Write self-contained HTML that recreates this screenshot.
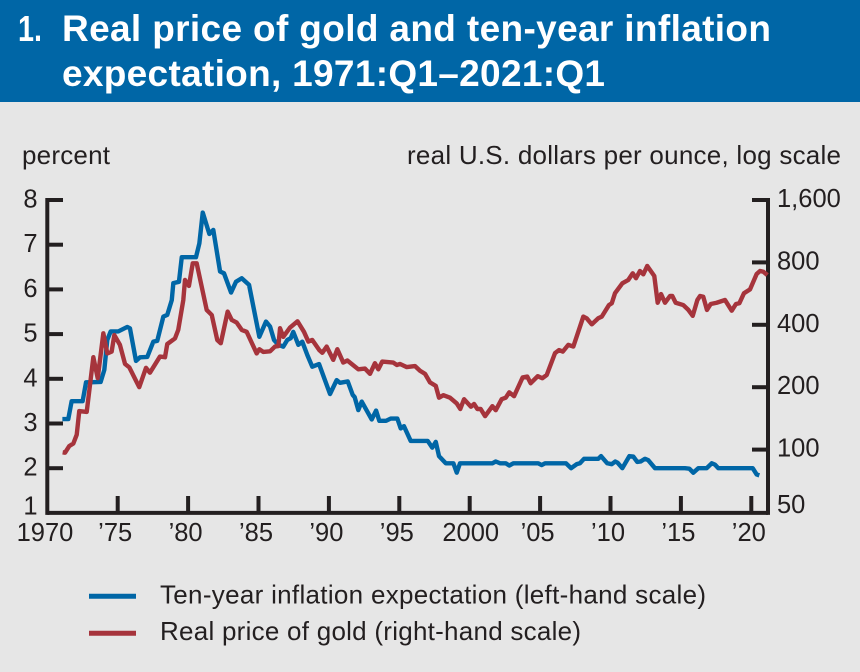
<!DOCTYPE html>
<html lang="en">
<head>
<meta charset="utf-8">
<title>Real price of gold and ten-year inflation expectation</title>
<style>
html,body{margin:0;padding:0;background:#e6e6e6;}
svg{display:block;font-family:"Liberation Sans",Arial,sans-serif;}
text{fill:#231f20;}
</style>
</head>
<body>
<svg id="chart" xmlns="http://www.w3.org/2000/svg" width="860" height="672" viewBox="0 0 860 672">
  <rect x="0" y="0" width="860" height="672" fill="#e6e6e6"/>
  <rect x="0" y="0" width="860" height="102" fill="#0066a6"/>
  <text x="18" y="41" font-size="36.5" font-weight="700" textLength="24" lengthAdjust="spacingAndGlyphs" style="fill:#fff">1.</text>
  <text x="62" y="41" font-size="37" font-weight="700" textLength="709" lengthAdjust="spacing" style="fill:#fff">Real price of gold and ten-year inflation</text>
  <text x="62" y="86" font-size="37" font-weight="700" textLength="543" lengthAdjust="spacing" style="fill:#fff">expectation, 1971:Q1–2021:Q1</text>
  <text x="22" y="164" font-size="26" textLength="88" lengthAdjust="spacing">percent</text>
  <text x="407" y="164" font-size="26" textLength="434" lengthAdjust="spacing">real U.S. dollars per ounce, log scale</text>
  <g id="axes"></g>
  <g id="series"></g>
  <line x1="89" y1="596.3" x2="136" y2="596.3" stroke="#0066a6" stroke-width="5"/>
  <text x="160" y="603.3" font-size="26" textLength="546" lengthAdjust="spacing">Ten-year inflation expectation (left-hand scale)</text>
  <line x1="89" y1="633.3" x2="136" y2="633.3" stroke="#a6343c" stroke-width="5"/>
  <text x="160" y="640" font-size="26" textLength="421" lengthAdjust="spacing">Real price of gold (right-hand scale)</text>
</svg>
<script>
var leftTicks = [8, 7, 6, 5, 4, 3, 2, 1];
var rightTicks = [1600, 800, 400, 200, 100, 50];
var rightTickLabels = ['1,600', '800', '400', '200', '100', '50'];
var xTicks = [1970, 1975, 1980, 1985, 1990, 1995, 2000, 2005, 2010, 2015, 2020];
var xTickLabels = ['1970', '’75', '’80', '’85', '’90', '’95', '2000', '’05', '’10', '’15', '’20'];

var inflationDates = [1971.07,1971.49,1971.73,1972.51,1972.75,1973.79,1974.05,1974.26,1974.50,1975.04,1975.68,1975.87,1976.30,1976.58,1977.10,1977.53,1977.81,1978.24,1978.52,1978.84,1978.95,1979.35,1979.55,1980.56,1980.80,1981.04,1981.51,1981.79,1982.27,1982.55,1983.05,1983.40,1983.81,1984.33,1985.06,1985.53,1985.82,1986.10,1986.41,1986.76,1987.05,1987.29,1987.47,1987.83,1988.11,1988.47,1988.82,1989.30,1990.08,1990.55,1990.79,1991.34,1991.69,1991.83,1992.09,1992.33,1993.04,1993.35,1993.58,1994.06,1994.39,1994.86,1995.10,1995.33,1995.81,1997.02,1997.34,1997.59,1997.82,1998.30,1998.84,1999.08,1999.31,2001.61,2001.85,2002.15,2002.56,2002.81,2003.10,2004.87,2005.11,2005.35,2006.84,2007.20,2007.60,2007.83,2008.12,2009.13,2009.33,2009.77,2010.09,2010.34,2010.51,2010.84,2011.34,2011.62,2011.90,2012.14,2012.45,2012.68,2013.16,2015.29,2015.60,2015.88,2016.24,2016.83,2017.19,2017.42,2017.66,2020.10,2020.38,2020.57];
var inflationValues = [3.10,3.10,3.50,3.50,3.92,3.93,4.20,4.87,5.06,5.06,5.16,5.13,4.40,4.48,4.49,4.83,4.85,5.39,5.43,5.76,6.14,6.17,6.72,6.72,7.03,7.72,7.24,7.33,6.40,6.36,5.93,6.17,6.25,6.10,4.94,5.28,5.17,4.87,4.76,4.72,4.87,4.91,5.05,4.76,4.83,4.53,4.27,4.33,3.66,3.97,3.91,3.94,3.64,3.59,3.30,3.49,3.09,3.29,3.06,3.06,3.11,3.11,2.89,2.94,2.61,2.61,2.46,2.59,2.27,2.11,2.11,1.90,2.11,2.11,2.15,2.11,2.11,2.06,2.11,2.11,2.07,2.11,2.11,2.00,2.09,2.11,2.21,2.21,2.27,2.11,2.09,2.15,2.12,2.00,2.27,2.26,2.14,2.15,2.21,2.18,2.00,2.00,1.99,1.90,2.00,2.00,2.11,2.08,2.00,2.00,1.86,1.84];

var goldDates = [1971.09,1971.26,1971.56,1971.85,1972.09,1972.27,1972.80,1973.27,1973.58,1973.98,1974.26,1974.57,1974.76,1975.16,1975.52,1975.82,1976.53,1977.01,1977.29,1978.00,1978.36,1978.52,1979.07,1979.30,1979.66,1979.78,1980.06,1980.33,1980.61,1981.32,1981.68,1982.07,1982.32,1982.81,1983.10,1983.45,1983.81,1984.16,1984.87,1985.06,1985.34,1985.82,1986.17,1986.41,1986.53,1986.76,1987.24,1987.77,1988.23,1988.54,1988.82,1989.32,1989.53,1989.84,1990.31,1990.60,1991.02,1991.31,1992.09,1992.56,1992.92,1993.27,1993.51,1993.79,1994.57,1994.82,1995.05,1995.53,1996.11,1996.47,1996.83,1997.18,1997.59,1997.82,1998.13,1998.60,1999.08,1999.33,1999.60,2000.09,2000.31,2000.54,2000.78,2001.09,2001.61,2001.85,2002.27,2002.56,2002.81,2003.15,2003.76,2004.09,2004.33,2004.83,2005.16,2005.47,2006.06,2006.34,2006.61,2007.00,2007.36,2008.07,2008.31,2008.67,2009.13,2009.38,2009.89,2010.09,2010.32,2010.84,2011.26,2011.58,2011.81,2012.09,2012.33,2012.61,2013.11,2013.35,2013.59,2013.87,2014.23,2014.39,2014.63,2015.17,2015.53,2015.84,2016.17,2016.36,2016.59,2016.85,2017.12,2017.54,2018.13,2018.61,2018.91,2019.15,2019.48,2019.91,2020.38,2020.62,2020.86,2021.14];
var goldValues = [97,96.6,104,107,118,153.5,152,279,221,364,291,297,357,320,259,249.5,200,248,235,281,279,323,344,378,527,658,616,792,792,472,446,338,326,463,422,410,378,370,291,305,296,298,314,316,385,350,388,416,370,332,338,302,293,314,271,305,263,269,244,246,232,261,244,266,263,256,259,250,253,240,232,211,203,178,183,178,167,157,175,161,166,157,157,145,162,155,175,178,189,181,223,225,209,226,221,229,292,302,297,320,314,438,430,402,430,438,498,508,568,634,658,709,671,727,701,769,688,511,563,511,551,551,511,498,472,442,527,551,546,472,504,511,527,468,504,508,568,593,703,727,721,695];

function xScale(year) { return 47.3 + (year - 1970) * 14.08; }
function leftScale(pct) { return 200 + (8 - pct) * 44.7; }
function rightScale(usd) { return 200 + Math.log2(1600 / usd) * 62.4; }

var NS = 'http://www.w3.org/2000/svg';
var axes = document.getElementById('axes');
var seriesGroup = document.getElementById('series');
var INK = '#231f20';

function line(parent, x1, y1, x2, y2, w) {
  var el = document.createElementNS(NS, 'line');
  el.setAttribute('x1', x1);
  el.setAttribute('y1', y1);
  el.setAttribute('x2', x2);
  el.setAttribute('y2', y2);
  el.setAttribute('stroke', INK);
  el.setAttribute('stroke-width', w);
  parent.appendChild(el);
  return el;
}
function label(parent, x, y, str, anchor) {
  var el = document.createElementNS(NS, 'text');
  el.setAttribute('x', x);
  el.setAttribute('y', y);
  el.setAttribute('font-size', '25.5');
  el.setAttribute('text-anchor', anchor);
  el.textContent = str;
  parent.appendChild(el);
  return el;
}
function polyline(parent, dates, values, scale, color) {
  var pts = dates.map(function (d, i) { return xScale(d).toFixed(2) + ',' + scale(values[i]).toFixed(2); }).join(' ');
  var el = document.createElementNS(NS, 'polyline');
  el.setAttribute('points', pts);
  el.setAttribute('fill', 'none');
  el.setAttribute('stroke', color);
  el.setAttribute('stroke-width', '4.4');
  el.setAttribute('stroke-linejoin', 'round');
  parent.appendChild(el);
  return el;
}

var xAxisY = leftScale(1);
var leftAxisX = xScale(1970);
var rightAxisX = 768;

var leftAxisLine = line(axes, leftAxisX, leftScale(8) - 2, leftAxisX, xAxisY + 2, 4);


var rightAxisLine = line(axes, rightAxisX, rightScale(1600) - 2, rightAxisX, xAxisY + 2, 4);


var bottomAxisLine = line(axes, leftAxisX, xAxisY, rightAxisX, xAxisY, 4);



leftTicks.forEach(function (v) {
  var y = leftScale(v);
  if (v !== 1) {
    var t = line(axes, leftAxisX, y, 63, y, 4);
    
    
  }
  var l = label(axes, 37.5, v === 1 ? y + 1.5 : y + 7.5, String(v), 'end');
  
  
});

rightTicks.forEach(function (v, i) {
  var y = rightScale(v);
  if (v !== 50) {
    var t = line(axes, 752, y, rightAxisX, y, 4);
    
    
  }
  var l = label(axes, 777, v === 50 ? y + 1 : y + 7, rightTickLabels[i], 'start');
  
  
});

xTicks.forEach(function (year, i) {
  var x = xScale(year);
  if (year !== 1970) {
    var t = line(axes, x, 496, x, xAxisY, 4);
    
    
  }
  var isApostrophe = xTickLabels[i].charAt(0) === '’';
  var l = label(axes, x + (isApostrophe ? -2.5 : (year === 1970 ? -2.3 : 1)), 541, xTickLabels[i], 'middle');
  
  
});

var inflationLine = polyline(seriesGroup, inflationDates, inflationValues, leftScale, '#0066a6');


var goldLine = polyline(seriesGroup, goldDates, goldValues, rightScale, '#a6343c');


</script>
</body>
</html>
